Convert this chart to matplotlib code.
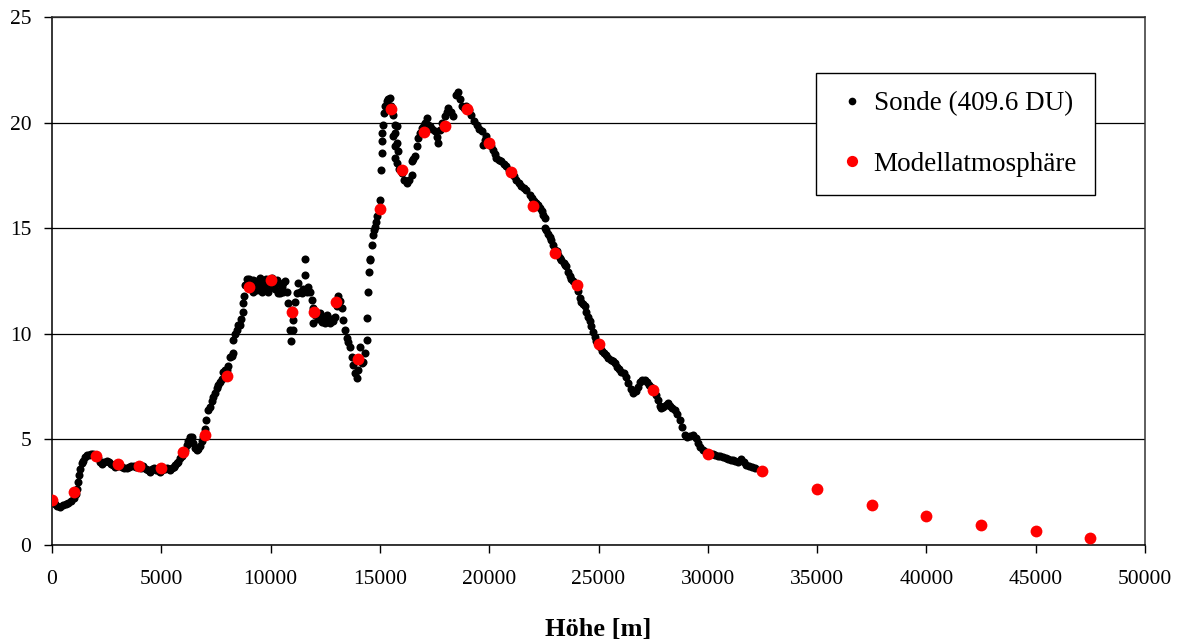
import matplotlib
matplotlib.use('Agg')
import matplotlib.pyplot as plt

# Ozonsonde: Hoehe [m] und Ozon-Partialdruck
sonde_hoehe = [
    0, 120, 250, 370, 500, 620, 750, 870, 1000, 1080, 1150, 1200, 1250, 1300, 1360, 1420, 1500, 1590,
    1680, 1780, 1890, 2000, 2100, 2180, 2270, 2380, 2500, 2600, 2700, 2800, 2900, 3000, 3100, 3200,
    3300, 3410, 3520, 3630, 3740, 3850, 3960, 4070, 4180, 4290, 4400, 4480, 4580, 4680, 4780, 4880,
    4940, 5050, 5150, 5250, 5340, 5400, 5480, 5560, 5640, 5700, 5780, 5860, 5940, 6000, 6080, 6160,
    6240, 6300, 6390, 6470, 6540, 6610, 6680, 6760, 6840, 6920, 6990,
    7050, 7150, 7230, 7300, 7380, 7450, 7530, 7605, 7680, 7760, 7840, 7920, 7990, 8060, 8130, 8215,
    8260, 8300, 8370, 8443, 8520, 8600, 8660, 8718, 8748, 8800, 8850, 8900,
    8950, 9000, 9053, 9120, 9200, 9280, 9360, 9430, 9510, 9580, 9650, 9740, 9810, 9880, 9960, 10045,
    10120, 10200, 10272, 10350, 10425, 10500, 10580, 10657, 10733,
    9000, 9200, 9400, 9600, 9800, 10000, 10300, 10550,
    10810, 10870, 10916, 10962, 11038, 11038, 11114, 11190, 11266, 11350, 11420, 11500, 11572, 11572,
    11650, 11724, 11800, 11877, 11923, 11960, 12030, 12106, 12180, 12260, 12335, 12410, 12490, 12564,
    12640, 12716, 12800, 12870, 12945, 13020, 13097, 13170, 13250, 13326, 13402, 13478, 13550, 13630,
    13707, 13783, 13860, 13936, 14000, 14088, 14160, 14240, 14317, 14393, 14420, 14469, 14496, 14527,
    14545,
    14618, 14664, 14720, 14770, 14820, 14877, 14940, 15000, 15043, 15073, 15073, 15110, 15150, 15196,
    15250, 15302, 15380, 15455, 15530, 15608, 15684, 15760, 15684, 15608, 15760, 15684, 15836, 15684,
    15760, 15870, 15990, 16100, 16218, 16330, 16447, 16447, 16520, 16600, 16676, 16752, 16830, 16905,
    17000, 17060, 17133, 17210, 17284, 17400, 17513, 17590, 17666, 17742, 17850, 17970, 18050, 18123,
    18240, 18352, 18473, 18580, 18650, 18733, 18850, 18961, 19080, 19190, 19300, 19419, 19530, 19648,
    19724, 19800, 19876, 20000, 20100, 20180, 20260, 20333, 20450, 20562, 20680, 20790, 20900, 21020,
    21130, 21248, 21360, 21477, 21600, 21706,
    21856, 21950, 22050, 22150, 22237, 22320, 22400, 22480, 22542, 22542, 22620, 22700, 22780, 22847,
    22920, 23000, 23080, 23160, 23230, 23306, 23400, 23470, 23535, 23610, 23686, 23760, 23840, 23910,
    23990, 24070, 24143, 24220, 24300, 24372, 24450, 24524, 24600, 24677, 24750, 24829, 24900, 24980,
    25057, 25150, 25250, 25364, 25450, 25550, 25650, 25743, 25850, 25950, 26048, 26150, 26250, 26353,
    26470, 26581, 26700, 26810, 26920, 27010, 27115, 27220, 27320, 27422, 27520, 27620, 27726, 27800,
    27878, 27970, 28080, 28181, 28280, 28380, 28487, 28600, 28715, 28830, 28944, 29050, 29180, 29324,
    29440, 29553, 29660, 29780, 29900, 30030, 30130, 30237, 30350, 30460, 30580, 30695, 30810, 30920,
    31040, 31152, 31260, 31380, 31536, 31650, 31763, 31880, 32000, 32145,
]
sonde_ozon = [
    2.05, 1.95, 1.85, 1.82, 1.88, 1.95, 2.0, 2.1, 2.25, 2.4, 2.65, 3.0, 3.3, 3.6, 3.87, 4.0, 4.15, 4.25,
    4.28, 4.3, 4.3, 4.2, 4.1, 3.95, 3.85, 3.95, 4.0, 3.95, 3.85, 3.8, 3.7, 3.75, 3.8, 3.7,
    3.65, 3.63, 3.7, 3.72, 3.75, 3.7, 3.7, 3.65, 3.72, 3.6, 3.55, 3.48, 3.6, 3.65, 3.55, 3.5,
    3.48, 3.55, 3.6, 3.65, 3.6, 3.55, 3.65, 3.7, 3.8, 3.87, 3.95, 4.1, 4.2, 4.34, 4.5, 4.75,
    4.95, 5.1, 5.13, 4.85, 4.6, 4.5, 4.55, 4.7, 4.95, 5.13, 5.5,
    5.9, 6.4, 6.55, 6.8, 7.03, 7.2, 7.45, 7.6, 7.7, 7.85, 8.2, 8.29, 8.3, 8.5, 8.9, 8.95,
    9.1, 9.7, 10.0, 10.2, 10.42, 10.4, 10.7, 11.02, 11.45, 11.8, 12.3, 12.6,
    12.55, 12.2, 12.48, 12.3, 12.0, 12.5, 12.09, 12.4, 12.64, 12.2, 12.5, 12.24, 12.45, 12.0, 12.55, 12.64,
    12.3, 12.1, 12.4, 11.95, 11.93, 12.2, 12.0, 12.48, 12.0,
    12.6, 12.55, 12.2, 12.0, 12.6, 12.2, 12.55, 12.4,
    11.45, 10.2, 9.64, 11.13, 10.66, 10.19, 11.53, 11.93, 12.4, 12.0, 11.95, 12.1, 12.8, 13.54,
    12.0, 12.24, 12.0, 11.61, 10.5, 11.2, 10.9, 10.98, 10.7, 11.0, 10.58, 10.8, 10.5, 10.9,
    10.75, 10.5, 10.7, 10.6, 10.82, 11.3, 11.77, 11.55, 11.22, 10.66, 10.19, 9.8, 9.6, 9.4,
    8.92, 8.53, 8.14, 7.9, 8.3, 9.4, 8.6, 8.69, 9.08, 9.72, 10.74, 12.0, 12.93, 13.51,
    13.54,
    14.22, 14.69, 14.9, 15.08, 15.3, 15.56, 15.9, 16.35, 17.74, 18.56, 19.14, 19.5, 19.9, 20.46,
    20.8, 21.01, 21.1, 21.17, 20.8, 20.38, 19.9, 19.83, 19.51, 19.35, 19.04, 18.88, 18.64, 18.33,
    18.1, 17.8, 17.61, 17.3, 17.14, 17.3, 17.54, 18.17, 18.3, 18.41, 18.88, 19.27, 19.5, 19.75,
    19.9, 20.0, 20.22, 19.9, 19.83, 19.7, 19.59, 19.3, 19.04, 19.67, 20.0, 20.3, 20.5, 20.69,
    20.5, 20.3, 21.32, 21.43, 21.1, 20.77, 20.7, 20.77, 20.6, 20.38, 20.1, 19.9, 19.7, 19.59,
    18.96, 19.2, 19.35, 19.1, 18.9, 18.72, 18.5, 18.33, 18.25, 18.17, 18.05, 17.93, 17.75, 17.55,
    17.45, 17.3, 17.15, 16.98, 16.9, 16.82,
    16.59, 16.45, 16.3, 16.2, 16.11, 15.95, 15.8, 15.65, 15.48, 15.01, 14.9, 14.75, 14.6, 14.45,
    14.2, 13.98, 13.9, 13.75, 13.6, 13.51, 13.35, 13.25, 13.19, 12.95, 12.72, 12.6, 12.5, 12.4,
    12.32, 12.05, 11.69, 11.5, 11.4, 11.3, 11.05, 10.82, 10.6, 10.35, 10.1, 9.87, 9.65, 9.5,
    9.4, 9.2, 9.1, 9.0, 8.85, 8.75, 8.7, 8.61, 8.45, 8.35, 8.21, 8.15, 7.95, 7.66,
    7.4, 7.19, 7.3, 7.5, 7.7, 7.82, 7.82, 7.7, 7.6, 7.5, 7.3, 7.1, 6.87, 6.6,
    6.48, 6.55, 6.65, 6.71, 6.6, 6.5, 6.4, 6.2, 5.92, 5.6, 5.21, 5.1, 5.15, 5.21,
    5.05, 4.82, 4.65, 4.5, 4.42, 4.35, 4.3, 4.31, 4.25, 4.2, 4.2, 4.15, 4.1, 4.08,
    4.05, 4.03, 4.0, 3.95, 4.08, 3.95, 3.79, 3.75, 3.68, 3.63,
]

# Modellatmosphaere
modell_hoehe = [0, 1000, 2000, 3000, 4000, 5000, 6000, 7000, 8000, 9000, 10000, 11000, 12000,
                13000, 14000, 15000, 15500, 16000, 17000, 18000, 19000, 20000, 21000, 22000,
                23000, 24000, 25000, 27500, 30000, 32500, 35000, 37500, 40000, 42500, 45000, 47500]
modell_ozon = [2.13, 2.5, 4.22, 3.82, 3.74, 3.65, 4.42, 5.21, 8.02, 12.24, 12.53, 11.03, 11.03,
               11.53, 8.8, 15.92, 20.65, 17.74, 19.54, 19.86, 20.65, 19.04, 17.65, 16.03,
               13.82, 12.32, 9.53, 7.35, 4.31, 3.52, 2.65, 1.9, 1.37, 0.95, 0.66, 0.33]

x_ticks = list(range(0, 50001, 5000))
y_ticks = [0, 5, 10, 15, 20, 25]

plt.rcParams['font.family'] = ['Liberation Serif', 'DejaVu Serif']

fig = plt.figure(figsize=(11.82, 6.42), dpi=100)
ax = fig.add_axes([0.044, 0.151, 0.9247, 0.8225])

ax.plot(sonde_hoehe, sonde_ozon, linestyle='none', marker='o', markersize=5.8,
        color='black', markeredgewidth=0, label='Sonde (409.6 DU)', zorder=3)
ax.plot(modell_hoehe, modell_ozon, linestyle='none', marker='o', markersize=8.5,
        color='#ff0000', markeredgewidth=0, label='Modellatmosphäre', zorder=4)

ax.set_xlim(0, 50000)
ax.set_ylim(0, 25)
ax.set_xticks(x_ticks)
ax.set_yticks(y_ticks)
ax.yaxis.grid(True, color='black', linewidth=0.9)
ax.set_axisbelow(True)
for s in ['top', 'right']:
    ax.spines[s].set_color('#333333')
for s in ax.spines.values():
    s.set_linewidth(1.1)
ax.tick_params(direction='out', length=6, width=1.0, labelsize=15.5)
ax.tick_params(axis='x', pad=12)
ax.tick_params(axis='y', pad=9)
ax.set_xlabel('Höhe [m]', fontsize=19, fontweight='bold', labelpad=21)

leg = ax.legend(loc='upper left', bbox_to_anchor=(0.699, 0.894), fontsize=19.5,
                frameon=True, fancybox=False, edgecolor='black', framealpha=1,
                labelspacing=1.3, borderpad=0.68, handletextpad=0.15, handlelength=1.3,
                borderaxespad=0, markerscale=0.95)
leg.get_frame().set_linewidth(1.0)

fig.savefig('out.png', dpi=100)
